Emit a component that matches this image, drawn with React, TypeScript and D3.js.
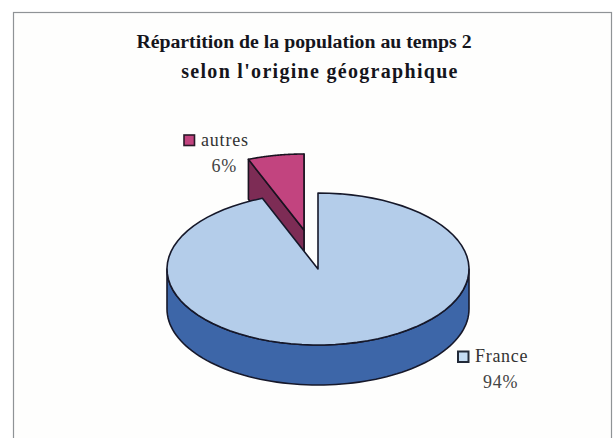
import React from "react";
import * as d3 from "d3";

const categories = ["autres", "France"];
const percentValues = [6, 94];
const titleLines = ["Répartition de la population au temps 2", "selon l'origine géographique"];

const W = 615, H = 438;
const cx = 318, cy = 269, rx = 151, ry = 76, depth = 40;
const explode = { dx: -14, dy: -39 };

const pieGen = d3.pie<number>().sort(null).startAngle(0).endAngle(-2 * Math.PI);
const arcs = pieGen(percentValues);
const pt = (a: number) => [rx * Math.sin(a), -ry * Math.cos(a)] as [number, number];
const arcPath = (a0: number, a1: number) => {
  const n = 80;
  const s = d3.scaleLinear().domain([0, n]).range([a0, a1]);
  return d3.range(n + 1).map((i) => pt(s(i)));
};
const line = d3.line();

function top(a: d3.PieArcDatum<number>) {
  return line([[0, 0], ...arcPath(a.startAngle, a.endAngle)])! + "Z";
}
function wall(a: d3.PieArcDatum<number>) {
  const lo = Math.min(a.startAngle, a.endAngle), hi = Math.max(a.startAngle, a.endAngle);
  const from = Math.max(lo, -1.5 * Math.PI), to = Math.min(hi, -0.5 * Math.PI);
  const rim = arcPath(from, to);
  const lower = rim.map(([x, y]) => [x, y + depth] as [number, number]).reverse();
  return line([...rim, ...lower])! + "Z";
}

const [autres, france] = arcs;
const aEdge = pt(autres.endAngle);
const aStart = pt(autres.startAngle);
const cutFace = line([[aEdge[0], aEdge[1]], [0, 0], [0, depth], [aEdge[0], aEdge[1] + depth]])! + "Z";
const sFace = line([[aStart[0], aStart[1]], [0, 0], [0, depth], [aStart[0], aStart[1] + depth]])! + "Z";

const serif = "'Liberation Serif', serif";

export default function App() {
  return (
    <svg width={W} height={H} style={{ position: "fixed", left: 0, top: 0, background: "#fff" }} fontFamily={serif}>
      <rect x={13.5} y={12.5} width={598} height={440} fill="#fefefd" stroke="#8f9396" strokeWidth={1.2} />
      <g textAnchor="middle" fontWeight="bold" fill="#15151c">
        <text x={304} y={48} fontSize={19.8}>{titleLines[0]}</text>
        <text x={320} y={78} fontSize={20} letterSpacing={1.3}>{titleLines[1]}</text>
      </g>
      <g transform={`translate(${cx + explode.dx},${cy + explode.dy})`} stroke="#1a1320" strokeWidth={1.6} strokeLinejoin="round">
        <path d={sFace} fill="#7d2c55" />
        <path d={cutFace} fill="#7d2c55" />
        <path d={top(autres)} fill="#c2447f" />
      </g>
      <g transform={`translate(${cx},${cy})`} stroke="#16182a" strokeWidth={1.6} strokeLinejoin="round">
        <path d={wall(france)} fill="#3d66a8" />
        <path d={top(france)} fill="#b4cdea" />
      </g>
      <rect x={184} y={135} width={10.5} height={10.5} fill="#c2447f" stroke="#2a1a28" strokeWidth={1.6} />
      <text x={201} y={146} fontSize={18} letterSpacing={0.8} fill="#333">{categories[0]}</text>
      <text x={211.5} y={172} fontSize={18} letterSpacing={0.8} fill="#444">{percentValues[0]}%</text>
      <rect x={458} y={351.5} width={10.5} height={10.5} fill="#c4dcf2" stroke="#222a38" strokeWidth={2} />
      <text x={475} y={362} fontSize={18} letterSpacing={0.7} fill="#333">{categories[1]}</text>
      <text x={483} y={388} fontSize={18} letterSpacing={0.8} fill="#444">{percentValues[1]}%</text>
    </svg>
  );
}
